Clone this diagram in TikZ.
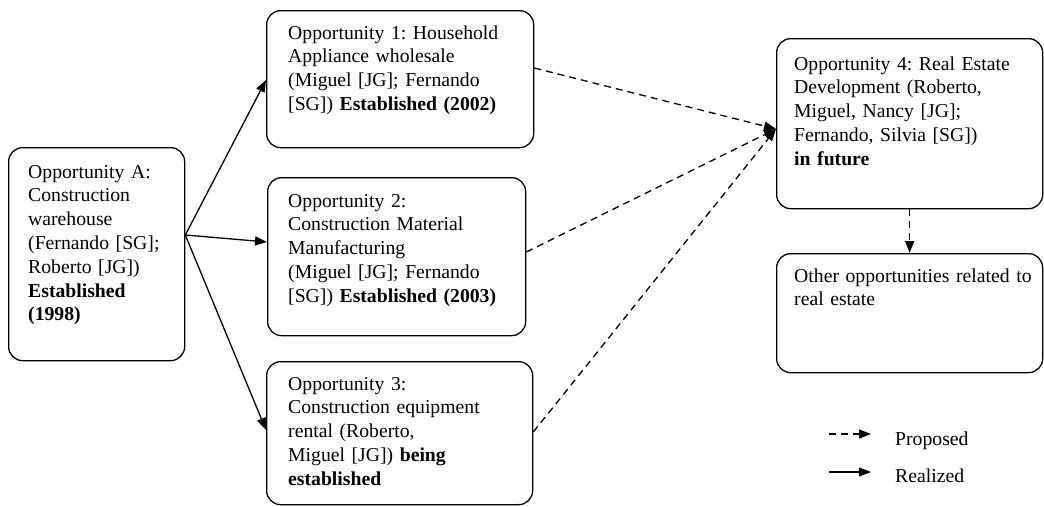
\documentclass[tikz,border=0pt]{standalone}
\usepackage{fontspec}
\setmainfont{Liberation Serif}
\usetikzlibrary{arrows.meta,calc}
\frenchspacing
\begin{document}
\begin{tikzpicture}[x=1pt,y=-1pt,
  box/.style={draw, line width=1.3pt, rounded corners=14pt, inner sep=0pt, anchor=north west},
  txt/.style={anchor=base west, inner sep=0pt, text width=270pt, align=left, font=\fontsize{19.7}{23.8}\selectfont},
  real/.style={line width=1.3pt, -{Triangle[length=12pt,width=9pt]}},
  prop/.style={real, dash pattern=on 7pt off 5pt}]
\useasboundingbox (0,0) rectangle (1044,506);
% boxes
\node[box, minimum width=176pt, minimum height=213pt] (A) at (8,147) {};
\node[box, minimum width=267pt, minimum height=137pt] (B1) at (266,10) {};
\node[box, minimum width=258pt, minimum height=158pt] (B2) at (267,177) {};
\node[box, minimum width=266pt, minimum height=143pt] (B3) at (266,361) {};
\node[box, minimum width=266pt, minimum height=170pt] (B4) at (776,38) {};
\node[box, minimum width=266pt, minimum height=119pt] (B5) at (776,253) {};
% texts
\node[txt] (tA) at (28,178) {Opportunity A:\\Construction\\warehouse\\(Fernando [SG];\\Roberto [JG])\\\textbf{Established}\\\textbf{(1998)}};
\node[txt] (t1) at (288,39) {Opportunity 1: Household\\Appliance wholesale\\(Miguel [JG]; Fernando\\{[SG]}) \textbf{Established (2002)}};
\node[txt] (t2) at (288,207) {Opportunity 2:\\Construction Material\\Manufacturing\\(Miguel [JG]; Fernando\\{[SG]}) \textbf{Established (2003)}};
\node[txt] (t3) at (288,390) {Opportunity 3:\\Construction equipment\\rental (Roberto,\\Miguel [JG]) \textbf{being}\\\textbf{established}};
\node[txt] (t4) at (794,70) {Opportunity 4: Real Estate\\Development (Roberto,\\Miguel, Nancy [JG];\\Fernando, Silvia [SG])\\\textbf{in future}};
\node[txt] (t5) at (794,282) {Other opportunities related to\\real estate};
% realized connectors
\coordinate (src) at (A.east |- 0,235);
\draw[real] (src) -- (B1.west |- 0,80);
\draw[real] (src) -- (B2.west |- 0,242);
\draw[real] (src) -- (B3.west |- 0,430);
% proposed connectors
\coordinate (tgt) at (B4.west |- 0,129);
\draw[prop] (B1.east |- 0,68) -- (tgt);
\draw[prop] (B2.east |- 0,252) -- (tgt);
\draw[prop] (B3.east |- 0,432) -- (tgt);
\draw[prop] (B4.south) -- (B5.north);
% legend
\coordinate (lp1) at (829,434);
\coordinate (lp2) at (871,434);
\coordinate (lr1) at (829,472);
\coordinate (lr2) at (871,472);
\draw[prop] (lp1) -- (lp2);
\draw[real] (lr1) -- (lr2);
\node[txt] (lpt) at (895,445) {Proposed};
\node[txt] (lrt) at (895,482) {Realized};
\end{tikzpicture}
\end{document}
